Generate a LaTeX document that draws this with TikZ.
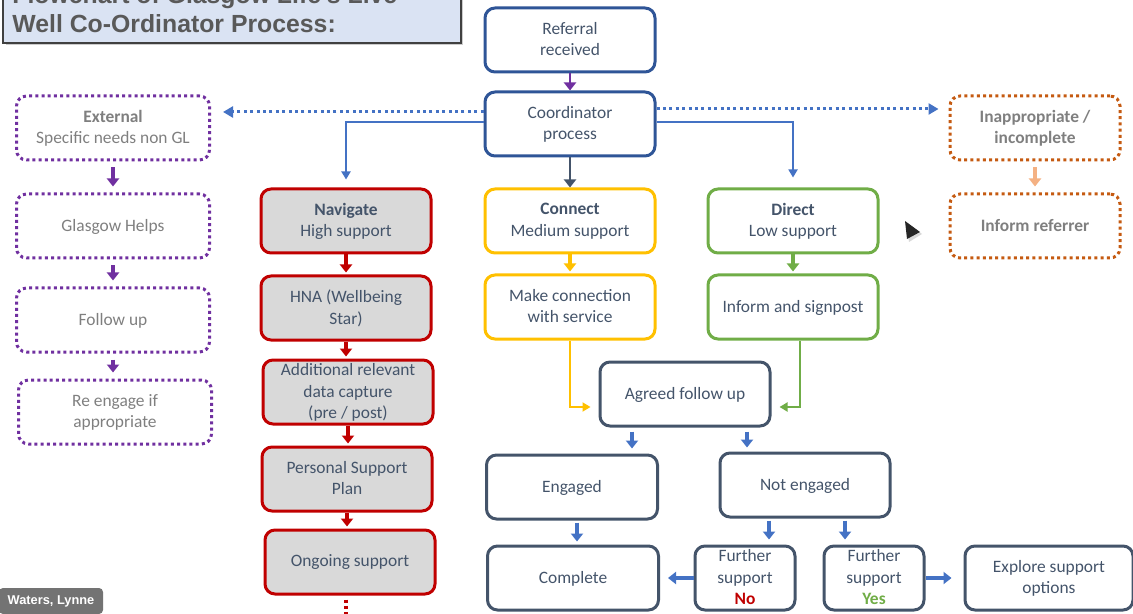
\documentclass[tikz,border=0pt]{standalone}
\usepackage{fontspec}
\setmainfont{Carlito}
\newfontfamily\arialbold{Liberation Sans Bold}
\usetikzlibrary{arrows.meta}
\definecolor{navyline}{HTML}{2F5597}
\definecolor{slate}{HTML}{44546A}
\definecolor{plum}{HTML}{7030A0}
\definecolor{darkred}{HTML}{C00000}
\definecolor{amber}{HTML}{FFC000}
\definecolor{leaf}{HTML}{70AD47}
\definecolor{rust}{HTML}{C55A11}
\definecolor{peach}{HTML}{F4B183}
\definecolor{linkblue}{HTML}{4472C4}
\definecolor{greytext}{HTML}{7F7F7F}
\definecolor{titlebg}{HTML}{DAE3F3}
\definecolor{boxgrey}{HTML}{D9D9D9}

\begin{document}
\begin{tikzpicture}[x=0.5pt, y=-0.5pt,
	every node/.style={font=\fontsize{8.7}{10.8}\selectfont, text=slate, align=center},
	box/.style={draw, rounded corners=5pt, line width=1.5pt, minimum width=85pt, minimum height=32pt, inner sep=1pt, text depth=1pt},
	dotbox/.style={box, dash pattern=on 1.5pt off 1.6pt, text=greytext, minimum width=96.5pt},
	redbox/.style={box, draw=darkred, fill=boxgrey},
	arr/.style={-{Triangle[length=4pt,width=6pt]}, line width=1.6pt},
	thinarr/.style={-{Triangle[length=4pt,width=4.5pt]}, line width=0.9pt, draw=linkblue},
	dotarr/.style={-{Triangle[length=5pt,width=5.5pt]}, line width=1.5pt, draw=linkblue, dash pattern=on 1.5pt off 1.7pt}]
	\useasboundingbox (0,0) rectangle (1133,614);
	\clip (0,0) rectangle (1133,614);
	% title
	\fill[black!20] (6,-20) rectangle (463,45);
	\draw[fill=titlebg, draw=black!75, line width=1pt] (3,-20) rectangle (461,43);
	\node[font=\arialbold\fontsize{12.4}{14}\selectfont, text=black!65, anchor=base west, inner sep=0] (title1) at (12,4) {Flowchart of Glasgow Life's Live};
	\node[font=\arialbold\fontsize{12.4}{14}\selectfont, text=black!65, anchor=base west, inner sep=0] (title2) at (12,33) {Well Co-Ordinator Process:};

	\node[box, draw=navyline] (referral) at (570,40) {Referral\\received};
	\node[box, draw=navyline] (coord) at (570,124) {Coordinator\\process};

	\node[dotbox, draw=plum] (external) at (113,128) {\textbf{External}\\Specific needs non GL};
	\node[dotbox, draw=plum] (helps) at (113,226) {Glasgow Helps};
	\node[dotbox, draw=plum] (followup) at (113,320) {Follow up};
	\node[dotbox, draw=plum] (reengage) at (115,412) {Re engage if\\appropriate};

	\node[redbox] (navigate) at (346,221) {\textbf{Navigate}\\High support};
	\node[redbox] (hna) at (346,308) {HNA (Wellbeing\\Star)};
	\node[redbox] (datacap) at (348,392) {Additional relevant\\data capture\\(pre / post)};
	\node[redbox] (plan) at (347,479) {Personal Support\\Plan};
	\node[redbox] (ongoing) at (350,562) {Ongoing support};
	\coordinate (more) at (350,620);

	\node[box, draw=amber] (connect) at (570,221) {\textbf{Connect}\\Medium support};
	\node[box, draw=amber] (makeconn) at (570,307) {Make connection\\with service};
	\node[box, draw=leaf] (direct) at (793,221) {\textbf{Direct}\\Low support};
	\node[box, draw=leaf] (signpost) at (793,307) {Inform and signpost};

	\node[dotbox, draw=rust, minimum width=85pt, font=\bfseries\fontsize{8.7}{10.8}\selectfont] (inapp) at (1035,128) {Inappropriate /\\incomplete};
	\node[dotbox, draw=rust, minimum width=85pt, font=\bfseries\fontsize{8.7}{10.8}\selectfont] (referrer) at (1035,226) {Inform referrer};

	\node[box, draw=slate] (agreed) at (685,394) {Agreed follow up};
	\node[box, draw=slate, minimum width=85.5pt] (engaged) at (572,487) {Engaged};
	\node[box, draw=slate] (notengaged) at (805,485) {Not engaged};
	\node[box, draw=slate, minimum width=85.5pt] (complete) at (573,578) {Complete};
	\node[box, draw=slate, minimum width=50pt] (furtherno) at (745,578) {Further\\support\\\textbf{\color{darkred}No}};
	\node[box, draw=slate, minimum width=50pt] (furtheryes) at (874,578) {Further\\support\\\textbf{\color{leaf}Yes}};
	\node[box, draw=slate, minimum width=84pt] (explore) at (1049,578) {Explore support\\options};

	\node[fill=black!55, text=white, rounded corners=2pt, font=\arialbold\fontsize{6.4}{7}\selectfont, minimum width=52pt, minimum height=13pt, inner sep=1pt] (nametag) at (51,601) {Waters, Lynne};
	\fill[black!15] (906,222) -- (922,234) -- (909,242) -- cycle;
	\fill[black!85] (905,221) -- (920,232) -- (907,239) -- cycle;

	\draw[arr, plum, line width=1pt] (referral) -- (coord);
	\draw[arr, slate, line width=1pt] (coord) -- (connect);
	\draw[thinarr, shorten >=4pt] ([yshift=1pt]coord.west) -| (navigate.north);
	\draw[thinarr, shorten >=5pt] ([yshift=1pt]coord.east) -| (direct.north);
	\draw[dotarr, shorten >=6pt] ([yshift=6pt]coord.west) -- ([yshift=8pt]external.east);
	\draw[dotarr, shorten >=5pt] ([yshift=7.5pt]coord.east) -- ([yshift=9.5pt]inapp.west);

	\draw[arr, plum, shorten <=3pt, shorten >=3pt] (external) -- (helps);
	\draw[arr, plum, shorten <=3pt, shorten >=3pt] (helps) -- (followup);
	\draw[arr, plum, shorten <=3pt, shorten >=3pt] (followup.south) -- (followup.south |- reengage.north);
	\draw[arr, peach, shorten <=3pt, shorten >=3pt] (inapp) -- (referrer);

	\draw[arr, darkred, shorten >=1pt] (navigate) -- (hna);
	\draw[arr, darkred, shorten >=1pt] (hna.south) -- (hna.south |- datacap.north);
	\draw[arr, darkred, shorten >=1pt] (datacap.south) -- (datacap.south |- plan.north);
	\draw[arr, darkred, shorten >=1pt] (plan.south) -- (plan.south |- ongoing.north);
	\draw[darkred, line width=1.6pt, dash pattern=on 1.6pt off 1.6pt, shorten <=2pt] (ongoing.south -| navigate.south) -- (more -| navigate.south);

	\draw[arr, amber, shorten >=1pt] (connect) -- (makeconn);
	\draw[arr, leaf, shorten >=1pt] (direct) -- (signpost);
	\draw[thinarr, amber, shorten >=4pt] (makeconn.south) |- ([yshift=-6.5pt]agreed.west);
	\draw[thinarr, leaf, shorten >=4pt] ([xshift=3.5pt]signpost.south) |- ([yshift=-6.5pt]agreed.east);

	\draw[arr, linkblue] ([xshift=-26.5pt, yshift=-2pt]agreed.south) -- ([xshift=30pt, yshift=2.5pt]engaged.north);
	\draw[arr, linkblue] ([xshift=31pt, yshift=-2pt]agreed.south) -- ([xshift=-29pt, yshift=2pt]notengaged.north);
	\draw[arr, linkblue] ([xshift=2.5pt, yshift=-1pt]engaged.south) -- ([xshift=2pt, yshift=1.5pt]complete.north);
	\draw[arr, linkblue] ([xshift=-18pt, yshift=-1pt]notengaged.south) -- ([xshift=12pt, yshift=2.5pt]furtherno.north);
	\draw[arr, linkblue] ([xshift=20pt, yshift=-1pt]notengaged.south) -- ([xshift=-14.5pt, yshift=2.5pt]furtheryes.north);
	\draw[arr, linkblue, shorten >=4pt] (furtherno) -- (complete);
	\draw[arr, linkblue, shorten >=6pt] (furtheryes) -- (explore);
\end{tikzpicture}
\end{document}
